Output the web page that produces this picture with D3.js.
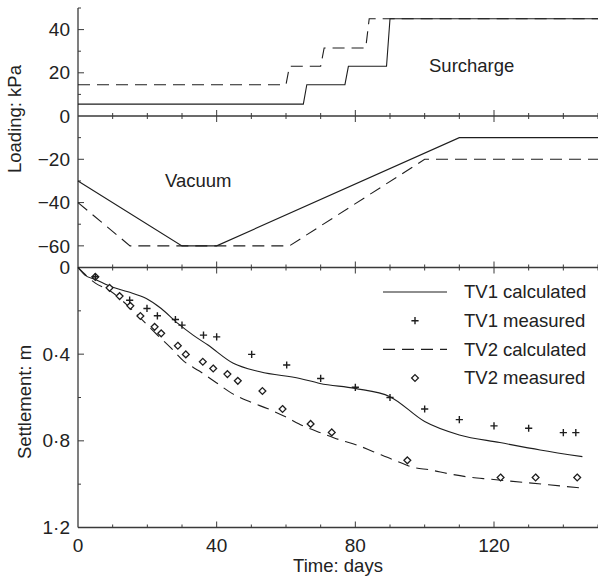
<!DOCTYPE html>
<html>
<head>
<meta charset="utf-8">
<script src="https://cdn.jsdelivr.net/npm/d3@7"></script>
<style>
  body { margin: 0; background: #fff; }
  svg text { font-family: "Liberation Sans", Arial, sans-serif; fill: #222; }
</style>
</head>
<body>
<div id="chart"></div>
<script>
// Loading (kPa) vs time (days)
var surchargeTV1 = [[0, 5.5], [65, 5.5], [66, 14.5], [77, 14.5], [78, 23], [89, 23], [90, 45], [150, 45]];
var surchargeTV2 = [[0, 14.5], [60, 14.5], [61, 23], [70, 23], [71, 31.5], [83, 31.5], [84, 45], [150, 45]];
var vacuumTV1 = [[0, -30], [30, -60], [40, -60], [110, -10], [150, -10]];
var vacuumTV2 = [[0, -40], [15, -60], [61, -60], [100, -20], [150, -20]];

// Settlement (m) vs time (days)
var tv1Calc = [[0, 0], [2, 0.035], [5, 0.055], [9.6, 0.089], [14.4, 0.112], [19.7, 0.143], [24, 0.189],
  [28.8, 0.258], [33.2, 0.312], [37.5, 0.358], [44.8, 0.442], [52.5, 0.481], [64, 0.512], [69.8, 0.535],
  [79.9, 0.558], [90, 0.596], [100, 0.711], [110, 0.773], [121.7, 0.808], [133.3, 0.842], [145.5, 0.873]];
var tv2Calc = [[0, 0], [5, 0.072], [9, 0.105], [15, 0.186], [18.6, 0.243], [22.6, 0.307], [26.5, 0.366],
  [30.5, 0.432], [35, 0.478], [39.5, 0.527], [44.4, 0.581], [49.6, 0.62], [54.8, 0.652], [59.7, 0.688],
  [64.9, 0.731], [70.4, 0.765], [75.6, 0.796], [80.4, 0.819], [85.2, 0.85], [91, 0.888], [96.7, 0.922],
  [101.5, 0.934], [107.3, 0.953], [113, 0.968], [118.8, 0.977], [129.4, 0.993], [139, 1.008], [145.5, 1.018]];
var tv1Meas = [[5, 0.043], [14.9, 0.151], [19.9, 0.189], [22.9, 0.223], [28.1, 0.24], [30, 0.266], [36.2, 0.312],
  [40, 0.32], [50.1, 0.401], [60.2, 0.45], [70, 0.512], [80, 0.553], [90, 0.6], [100, 0.653], [110, 0.702],
  [120, 0.731], [130, 0.742], [140, 0.762], [143.6, 0.762]];
var tv2Meas = [[5, 0.043], [9.1, 0.094], [12, 0.132], [15.1, 0.177], [18, 0.224], [22.1, 0.274], [24, 0.304],
  [28.8, 0.361], [31.1, 0.401], [36, 0.435], [39, 0.466], [43.1, 0.492], [46.1, 0.523], [53.2, 0.57],
  [59, 0.653], [67.1, 0.722], [73.2, 0.761], [95, 0.89], [121.9, 0.969], [132, 0.969], [144, 0.969]];

var xTickLabels = [0, 40, 80, 120];
var loadTickLabels = [40, 20, 0, -20, -40, -60];
var settleTickLabels = [0, 0.4, 0.8, 1.2];
var legendItems = ['TV1 calculated', 'TV1 measured', 'TV2 calculated', 'TV2 measured'];

var W = 598, H = 578;
var ink = '#1e1e1e', axisCol = '#3a3a3a';
var dash = '12,7';

var svg = d3.select('#chart').append('svg').attr('width', W).attr('height', H);

var x = d3.scaleLinear().domain([0, 150]).range([78, 598]);
var yTop = d3.scaleLinear().domain([0, 50]).range([116, 8]);
var yMid = d3.scaleLinear().domain([-70, 0]).range([267.5, 116]);
var yBot = d3.scaleLinear().domain([0, 1.2]).range([267.5, 527.5]);

function fmt(v) {
  return String(v).replace('-', '\u2212').replace('.', '\u00b7');
}

// left axis line
svg.append('line').attr('x1', x(0)).attr('x2', x(0)).attr('y1', yTop(50)).attr('y2', yBot(1.2))
  .attr('stroke', axisCol).attr('stroke-width', 1.3);

// horizontal axis lines with ticks
var xTicks = d3.range(0, 151, 10);
function hAxis(y, crossing) {
  svg.append('line').attr('x1', x(0)).attr('x2', x(150)).attr('y1', y).attr('y2', y)
    .attr('stroke', axisCol).attr('stroke-width', 1.3);
  svg.append('g').selectAll('line').data(xTicks.filter(function(d) { return d > 0; })).enter().append('line')
    .attr('x1', function(d) { return x(d); }).attr('x2', function(d) { return x(d); })
    .attr('y1', function(d) { return y - (d % 40 === 0 ? 6 : 3); })
    .attr('y2', function(d) { return crossing ? y + (d % 40 === 0 ? 6 : 3) : y; })
    .attr('stroke', axisCol).attr('stroke-width', 1);
}
hAxis(yTop(0), true);
hAxis(yBot(0), true);
hAxis(yBot(1.2), false);

// y ticks (inward)
function yTicks(scale, vals, major) {
  svg.append('g').selectAll('line').data(vals).enter().append('line')
    .attr('x1', x(0)).attr('x2', function(d) { return x(0) + (major(d) ? 6 : 3); })
    .attr('y1', function(d) { return scale(d); }).attr('y2', function(d) { return scale(d); })
    .attr('stroke', axisCol).attr('stroke-width', 1);
}
yTicks(yTop, [10, 20, 30, 40, 50], function(d) { return d % 20 === 0; });
yTicks(yMid, [-10, -20, -30, -40, -50, -60], function(d) { return d % 20 === 0; });
yTicks(yBot, [0.2, 0.4, 0.6, 0.8, 1.0], function(d) { return Math.round(d * 10) % 4 === 0; });

// y tick labels
function yLabel(v, y) {
  svg.append('text').attr('x', 70).attr('y', y).attr('dy', '0.35em').attr('text-anchor', 'end')
    .style('font-size', '19px').text(fmt(v));
}
loadTickLabels.forEach(function(v) { yLabel(v, v >= 0 ? yTop(v) : yMid(v)); });
settleTickLabels.forEach(function(v) { yLabel(v, yBot(v)); });

// x tick labels
svg.append('g').selectAll('text').data(xTickLabels).enter().append('text')
  .attr('x', function(d) { return x(d); }).attr('y', 551.5).attr('text-anchor', 'middle')
  .style('font-size', '19px').text(function(d) { return d; });

// axis titles
svg.append('text').attr('x', 338).attr('y', 572).attr('text-anchor', 'middle')
  .style('font-size', '18.5px').text('Time: days');
svg.append('text').attr('transform', 'translate(21,119) rotate(-90)').attr('text-anchor', 'middle')
  .style('font-size', '18.5px').text('Loading: kPa');
svg.append('text').attr('transform', 'translate(31,402) rotate(-90)').attr('text-anchor', 'middle')
  .style('font-size', '18.5px').text('Settlement: m');

// panel labels
svg.append('text').attr('x', 429).attr('y', 72).style('font-size', '18.5px').text('Surcharge');
svg.append('text').attr('x', 165).attr('y', 186.5).style('font-size', '18.5px').text('Vacuum');

// loading lines
function path(data, scale, dashed, curve) {
  var line = d3.line().x(function(d) { return x(d[0]); }).y(function(d) { return scale(d[1]); });
  if (curve) line.curve(curve);
  svg.append('path').datum(data).attr('d', line).attr('fill', 'none')
    .attr('stroke', ink).attr('stroke-width', 1.1)
    .attr('stroke-dasharray', dashed ? dash : null);
}
path(surchargeTV1, yTop, false);
path(surchargeTV2, yTop, true);
path(vacuumTV1, yMid, false);
path(vacuumTV2, yMid, true);

// settlement
path(tv1Calc, yBot, false, d3.curveMonotoneX);
path(tv2Calc, yBot, true, d3.curveMonotoneX);

function crosses(data, scale) {
  svg.append('g').selectAll('path').data(data).enter().append('path')
    .attr('d', function(d) {
      var cx = x(d[0]), cy = scale(d[1]), r = 3.6;
      return 'M' + (cx - r) + ',' + cy + 'H' + (cx + r) + 'M' + cx + ',' + (cy - r) + 'V' + (cy + r);
    })
    .attr('stroke', ink).attr('stroke-width', 1.4).attr('fill', 'none');
}
function diamonds(data, scale) {
  svg.append('g').selectAll('path').data(data).enter().append('path')
    .attr('d', function(d) {
      var cx = x(d[0]), cy = scale(d[1]), r = 3.4;
      return 'M' + cx + ',' + (cy - r) + 'L' + (cx + r) + ',' + cy + 'L' + cx + ',' + (cy + r) + 'L' + (cx - r) + ',' + cy + 'Z';
    })
    .attr('stroke', ink).attr('stroke-width', 1.3).attr('fill', '#fff');
}
diamonds(tv2Meas, yBot);
crosses(tv1Meas, yBot);

// legend
var legY = [292, 320.7, 349.4, 378];
var lg = svg.append('g');
legendItems.forEach(function(name, i) {
  var y = legY[i];
  if (i % 2 === 0) {
    lg.append('line').attr('x1', 383).attr('x2', 447).attr('y1', y).attr('y2', y)
      .attr('stroke', ink).attr('stroke-width', 1.1).attr('stroke-dasharray', i === 2 ? dash : null);
  }
  lg.append('text').attr('x', 464).attr('y', y).attr('dy', '0.35em').style('font-size', '18.5px').text(name);
});
var legScale = d3.scaleLinear().domain([0, 1]).range([0, 1]);
crosses([[x.invert(415), yBot.invert(legY[1])]], yBot);
diamonds([[x.invert(415), yBot.invert(legY[3])]], yBot);
</script>
</body>
</html>
